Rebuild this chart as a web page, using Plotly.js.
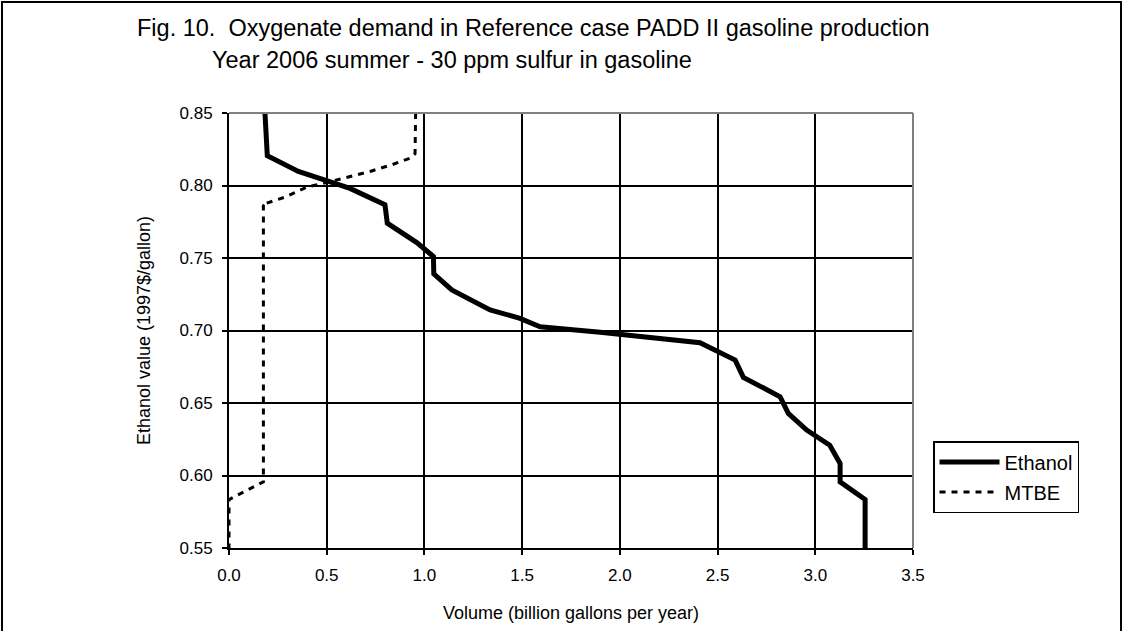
<!DOCTYPE html>
<html>
<head>
<meta charset="utf-8">
<script src="https://cdn.plot.ly/plotly-3.0.1.min.js"></script>
<style>
  html, body { margin: 0; padding: 0; background: #fff; }
  #chart { width: 1125px; height: 631px; }
</style>
</head>
<body>
<div id="chart"></div>
<script>
// ---- Data ----
const ethanolVolume = [0.184, 0.189, 0.196, 0.355, 0.500, 0.619, 0.798, 0.810, 0.961, 1.046, 1.048, 1.140, 1.336, 1.489, 1.592, 1.899, 2.410, 2.590, 2.632, 2.820, 2.862, 2.956, 3.074, 3.127, 3.127, 3.255, 3.255];
const ethanolValue  = [0.850, 0.834, 0.8205, 0.8097, 0.8028, 0.798, 0.7867, 0.774, 0.7606, 0.751, 0.739, 0.728, 0.7142, 0.7084, 0.7026, 0.6988, 0.6916, 0.6796, 0.6677, 0.6543, 0.6428, 0.6313, 0.6209, 0.6083, 0.5956, 0.5834, 0.550];

const mtbeVolume = [0.955, 0.952, 0.930, 0.833, 0.722, 0.611, 0.500, 0.398, 0.287, 0.167, 0.176, 0.176, 0.000, 0.000];
const mtbeValue  = [0.850, 0.822, 0.819, 0.8143, 0.8097, 0.8058, 0.8021, 0.7989, 0.7920, 0.7867, 0.7860, 0.5956, 0.5834, 0.550];

const seriesNames = ["Ethanol", "MTBE"];
const xTickVals = [0, 0.5, 1.0, 1.5, 2.0, 2.5, 3.0, 3.5];
const yTickVals = [0.55, 0.60, 0.65, 0.70, 0.75, 0.80, 0.85];

const titleLine1 = "Fig. 10.&nbsp; Oxygenate demand in Reference case PADD II gasoline production";
const titleLine2 = "Year 2006 summer - 30 ppm sulfur in gasoline";
const xTitle = "Volume (billion gallons per year)";
const yTitle = "Ethanol value (1997$/gallon)";

// ---- Figure ----
const FONT = "Liberation Sans, Arial, sans-serif";

const traces = [
  {
    x: ethanolVolume, y: ethanolValue, name: seriesNames[0],
    type: "scatter", mode: "lines", legendgroup: "a",
    line: { color: "#000", width: 5 }
  },
  {
    x: mtbeVolume, y: mtbeValue, name: seriesNames[1],
    type: "scatter", mode: "lines", legendgroup: "b",
    line: { color: "#000", width: 3, dash: "6px,6px" }
  }
];

// plot area in px: left 229, right 913, top 113, bottom 548
const L = 229, R = 913, T = 113, B = 548;
const px2x = p => (p - L) / (R - L);
const px2y = p => (B - p) / (B - T);

const layout = {
  width: 1125, height: 631,
  margin: { l: L, r: 1125 - R, t: T, b: 631 - B, pad: 0 },
  paper_bgcolor: "#fff", plot_bgcolor: "#fff",
  font: { family: FONT, color: "#000", size: 17 },
  title: {
    text: titleLine1,
    font: { family: FONT, size: 23.5, color: "#000" },
    x: 137 / 1125, xref: "container", xanchor: "left",
    y: 1 - 28 / 631, yref: "container", yanchor: "middle"
  },
  annotations: [
    {
      text: titleLine2, showarrow: false,
      xref: "paper", yref: "paper",
      x: px2x(210), y: px2y(60), xanchor: "left", yanchor: "middle",
      font: { family: FONT, size: 23.5, color: "#000" }
    }
  ],
  xaxis: {
    range: [0, 3.5], tickvals: xTickVals, tickformat: ".1f",
    showgrid: true, gridcolor: "#000", gridwidth: 2,
    showline: true, linecolor: "#000", linewidth: 2,
    ticks: "outside", ticklen: 5, tickcolor: "#000", tickwidth: 2,
    ticklabelstandoff: 6,
    zeroline: false, fixedrange: true,
    tickfont: { family: FONT, size: 17, color: "#000" },
    title: { text: xTitle, font: { family: FONT, size: 18, color: "#000" }, standoff: 22 }
  },
  yaxis: {
    range: [0.55, 0.85], tickvals: yTickVals, tickformat: ".2f",
    showgrid: true, gridcolor: "#000", gridwidth: 2,
    showline: true, linecolor: "#000", linewidth: 2,
    ticks: "outside", ticklen: 5, tickcolor: "#000", tickwidth: 2,
    ticklabelstandoff: 6,
    zeroline: false, fixedrange: true,
    tickfont: { family: FONT, size: 17, color: "#000" },
    title: { text: yTitle, font: { family: FONT, size: 18, color: "#000" }, standoff: 24 }
  },
  showlegend: true,
  legend: {
    x: px2x(933), y: px2y(441), xanchor: "left", yanchor: "top",
    bgcolor: "#fff", bordercolor: "#000", borderwidth: 1.5,
    font: { family: FONT, size: 20, color: "#000" },
    traceorder: "grouped", tracegroupgap: 1, itemwidth: 60
  },
  shapes: [
    // gray top and right plot border
    { type: "line", xref: "paper", yref: "paper", x0: 0, x1: 1, y0: 1, y1: 1, line: { color: "#808080", width: 2 }, layer: "above" },
    { type: "line", xref: "paper", yref: "paper", x0: 1, x1: 1, y0: 0, y1: 1, line: { color: "#808080", width: 2 }, layer: "above" },
    // outer chart frame
    { type: "path", xref: "paper", yref: "paper",
      path: "M " + px2x(2) + "," + px2y(640) + " L " + px2x(2) + "," + px2y(2) + " L " + px2x(1121) + "," + px2y(2) + " L " + px2x(1121) + "," + px2y(640),
      line: { color: "#000", width: 2 }, layer: "above" }
  ]
};

Plotly.newPlot("chart", traces, layout, { displayModeBar: false, staticPlot: true });
</script>
</body>
</html>
